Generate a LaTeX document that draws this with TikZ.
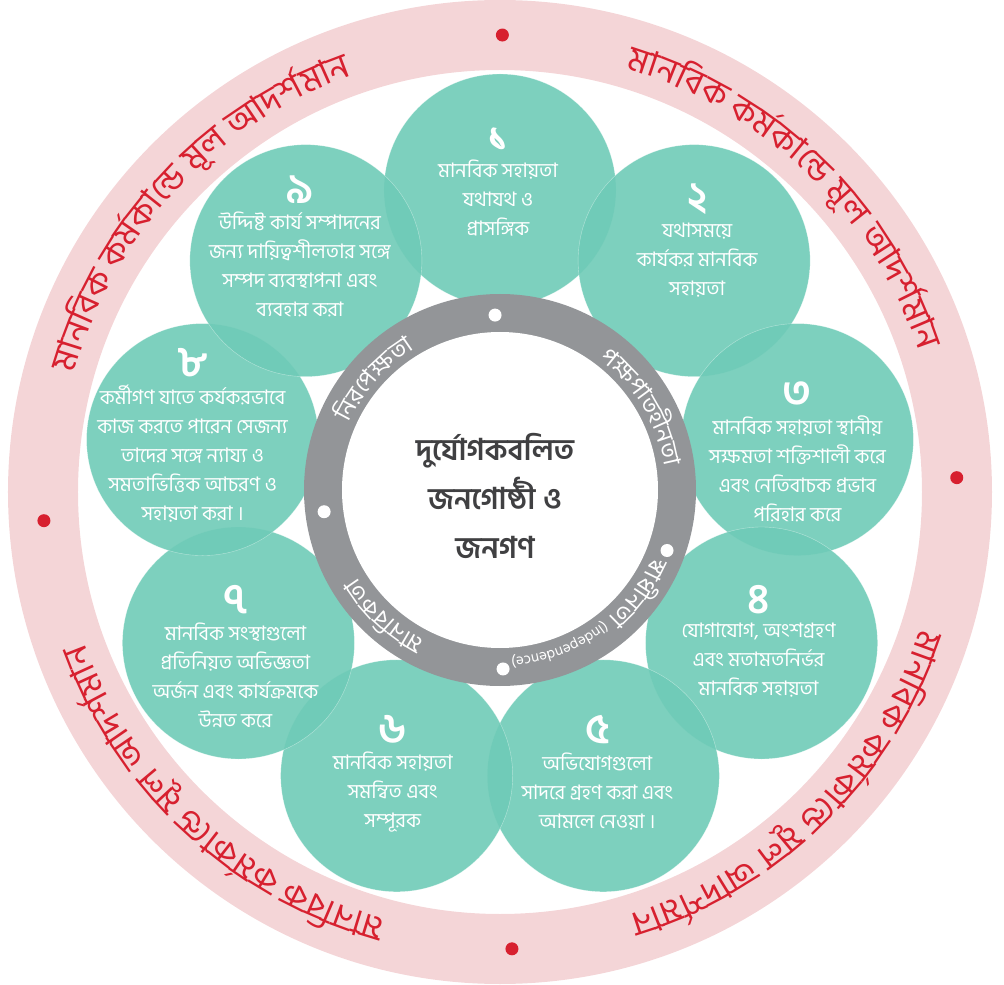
\documentclass[tikz,border=0pt]{standalone}
\usepackage{fontspec}
\newfontfamily\bn[Script=Bengali]{Hind Siliguri}
\usetikzlibrary{positioning,decorations.text}
\definecolor{petalcol}{HTML}{6FCBB7}
\definecolor{ringpink}{HTML}{F4D5D7}
\definecolor{ringred}{HTML}{D7202F}
\definecolor{hubgray}{HTML}{939598}
\definecolor{titlecol}{HTML}{404042}
\begin{document}
\begin{tikzpicture}[x=1pt,y=1pt,
  petal/.style={circle, minimum size=232pt, inner sep=0pt, fill=petalcol, fill opacity=.9,
    draw=white, draw opacity=.45, line width=.4pt},
  num/.style={text=white, inner sep=0pt, font=\bn\bfseries\fontsize{42}{42}\selectfont},
  petaltext/.style={align=center, text=white, inner sep=0pt, font=\bn\fontsize{20}{29}\selectfont},
  ringdot/.style={circle, inner sep=0pt, minimum size=13pt, fill=#1},
  ringtext/.style={decorate, decoration={text along path, text align=center, text color=ringred,
    text={|\bn\fontsize{35}{35}\selectfont|#1}}},
  hubtext/.style={decorate, decoration={text along path, text align=center, text color=white,
    text={|\bn\fontsize{24}{24}\selectfont|#1}}}]
\useasboundingbox (-500,-493) rectangle (504,492);
% outer ring
\draw[ringpink, line width=70pt] (0,0) circle[radius=457];
\node[ringdot=ringred] (r1) at (89.7:457) {};
\node[ringdot=ringred] (r2) at (1.8:457) {};
\node[ringdot=ringred] (r3) at (-88.5:457) {};
\node[ringdot=ringred] (r4) at (183.6:457) {};
\path[ringtext={{{মা}}{ন}{বি}{ক} {ক}{র্ম}{কা}{ন্ডে} {মূ}{ল} {আ}{দ}{র্শ}{মা}{ন}}]
  (172:442) arc[start angle=172, end angle=102, radius=442];
\path[ringtext={{{মা}}{ন}{বি}{ক} {ক}{র্ম}{কা}{ন্ডে} {মূ}{ল} {আ}{দ}{র্শ}{মা}{ন}}]
  (81:442) arc[start angle=81, end angle=11, radius=442];
\path[ringtext={{{মা}}{ন}{বি}{ক} {ক}{র্ম}{কা}{ন্ডে} {মূ}{ল} {আ}{দ}{র্শ}{মা}{ন}}]
  (-10.5:442) arc[start angle=-10.5, end angle=-80.5, radius=442];
\path[ringtext={{{মা}}{ন}{বি}{ক} {ক}{র্ম}{কা}{ন্ডে} {মূ}{ল} {আ}{দ}{র্শ}{মা}{ন}}]
  (-97.5:442) arc[start angle=-97.5, end angle=-167.5, radius=442];

% nine petals
\node[petal] (c1) at (90:302) {};
\node[petal] (c2) at (50:302) {};
\node[petal] (c3) at (10:302) {};
\node[petal] (c4) at (-30:302) {};
\node[petal] (c5) at (-70:302) {};
\node[petal] (c6) at (-110:302) {};
\node[petal] (c7) at (-150:302) {};
\node[petal] (c8) at (170:302) {};
\node[petal] (c9) at (130:302) {};

\node[num] (n1) at ([shift={(-2,50)}]c1) {১};
\node[petaltext, below=8pt of n1] (t1) {মানবিক সহায়তা\\যথাযথ ও\\প্রাসঙ্গিক};
\node[num] (n2) at ([shift={(3,61)}]c2) {২};
\node[petaltext, below=8pt of n2] (t2) {যথাসময়ে\\কার্যকর মানবিক\\সহায়তা};
\node[num] (n3) at ([shift={(0,45)}]c3) {৩};
\node[petaltext, below=8pt of n3] (t3) {মানবিক সহায়তা স্থানীয়\\সক্ষমতা শক্তিশালী করে\\এবং নেতিবাচক প্রভাব\\পরিহার করে};
\node[num] (n4) at ([shift={(-3,43)}]c4) {৪};
\node[petaltext, below=8pt of n4] (t4) {যোগাযোগ, অংশগ্রহণ\\এবং মতামতনির্ভর\\মানবিক সহায়তা};
\node[num] (n5) at ([shift={(-6,46)}]c5) {৫};
\node[petaltext, below=8pt of n5] (t5) {অভিযোগগুলো\\সাদরে গ্রহণ করা এবং\\আমলে নেওয়া ।};
\node[num] (n6) at ([shift={(-4,46)}]c6) {৬};
\node[petaltext, below=8pt of n6] (t6) {মানবিক সহায়তা\\সমন্বিত এবং\\সম্পূরক};
\node[num] (n7) at ([shift={(-3,43)}]c7) {৭};
\node[petaltext, below=8pt of n7] (t7) {মানবিক সংস্থাগুলো\\প্রতিনিয়ত অভিজ্ঞতা\\অর্জন এবং কার্যক্রমকে\\উন্নত করে};
\node[num] (n8) at ([shift={(-10,77)}]c8) {৮};
\node[petaltext, below=8pt of n8] (t8) {কর্মীগণ যাতে কর্যকরভাবে\\কাজ করতে পারেন সেজন্য\\তাদের সঙ্গে ন্যায্য ও\\সমতাভিত্তিক আচরণ ও\\সহায়তা করা ।};
\node[num] (n9) at ([shift={(-6,71)}]c9) {৯};
\node[petaltext, below=8pt of n9] (t9) {উদ্দিষ্ট কার্য সম্পাদনের\\জন্য দায়িত্বশীলতার সঙ্গে\\সম্পদ ব্যবস্থাপনা এবং\\ব্যবহার করা};

% hub
\node[circle, fill=hubgray, minimum size=392pt, inner sep=0pt] (hub) at (0,2) {};
\node[circle, fill=white, minimum size=316pt, inner sep=0pt] (core) at (hub) {};
\node[align=center, text=titlecol, font=\bn\bfseries\fontsize{30}{49}\selectfont] (title) at (-5,-4)
  {দুর্যোগকবলিত\\জনগোষ্ঠী ও\\জনগণ};
\node[ringdot=white] (d1) at (91.6:177) {};
\node[ringdot=white] (d2) at (186.4:177) {};
\node[ringdot=white] (d3) at (-19.3:177) {};
\node[ringdot=white] (d4) at (-89:177) {};
\path[hubtext={{{নি}}{র}{পে}{ক্ষ}{{তা}}}] (168:166) arc[start angle=168, end angle=108, radius=166];
\path[hubtext={{প}{ক্ষ}{পা}{ত}{হী}{ন}{{তা}}}] (71:166) arc[start angle=71, end angle=-9, radius=166];
\path[hubtext={{{স্বা}}{ধী}{ন}{তা} |\bn\fontsize{15}{15}\selectfont|(Independence)}] (-4.5:166) arc[start angle=-4.5, end angle=-104.5, radius=166];
\path[hubtext={{{মা}}{ন}{বি}{ক}{{তা}}}] (-103:166) arc[start angle=-103, end angle=-163, radius=166];
\end{tikzpicture}
\end{document}
